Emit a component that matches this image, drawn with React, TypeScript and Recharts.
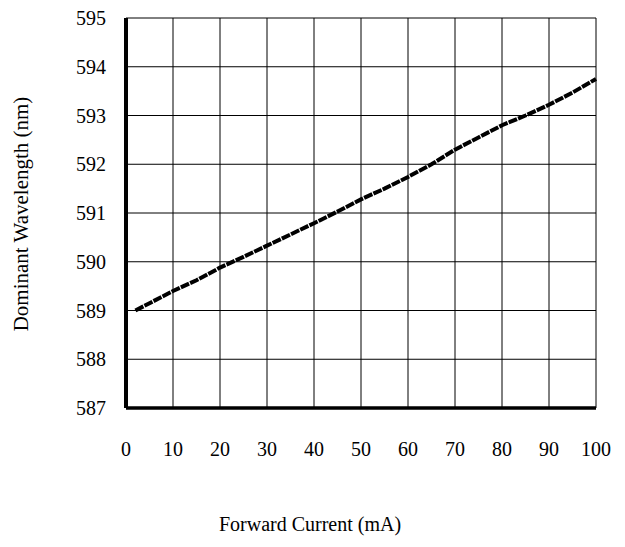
import React from 'react';
import { LineChart, Line, XAxis, YAxis, CartesianGrid, Label } from 'recharts';

const currents = [2, 5, 10, 15, 20, 25, 30, 35, 40, 45, 50, 55, 60, 65, 70, 75, 80, 85, 90, 95, 100];
const wavelengths = [589.0, 589.15, 589.4, 589.62, 589.88, 590.1, 590.33, 590.56, 590.79, 591.03, 591.28, 591.5, 591.74, 592.0, 592.3, 592.55, 592.8, 593.0, 593.22, 593.47, 593.75];
const xTicks = [0, 10, 20, 30, 40, 50, 60, 70, 80, 90, 100];
const yTicks = [587, 588, 589, 590, 591, 592, 593, 594, 595];
const xTitle = 'Forward Current (mA)';
const yTitle = 'Dominant Wavelength (nm)';

const data = currents.map((c, i) => ({ current: c, wavelength: wavelengths[i] }));

const FONT = '"Times New Roman", "Liberation Serif", serif';
const tickStyle = { fill: '#000', fontSize: 20, fontFamily: FONT };

export default function App() {
  return (
    <div style={{ position: 'absolute', left: 0, top: 0, width: 625, height: 547, background: '#fff', fontFamily: FONT }}>
      <LineChart width={625} height={547} data={data} margin={{ top: 18, right: 29, bottom: 0, left: 0 }}>
        <CartesianGrid stroke="#000" strokeWidth={1} horizontal vertical />
        <XAxis
          xAxisId="top"
          orientation="top"
          type="number"
          dataKey="current"
          domain={[0, 100]}
          ticks={xTicks}
          height={0}
          tick={false}
          tickLine={false}
          axisLine={{ stroke: '#000', strokeWidth: 3 }}
        />
        <YAxis
          yAxisId="right"
          orientation="right"
          type="number"
          domain={[587, 595]}
          ticks={yTicks}
          width={0}
          tick={false}
          tickLine={false}
          axisLine={{ stroke: '#000', strokeWidth: 3.5 }}
        />
        <XAxis
          type="number"
          dataKey="current"
          domain={[0, 100]}
          ticks={xTicks}
          interval={0}
          height={139}
          tickLine={false}
          tickMargin={28}
          tick={tickStyle}
          axisLine={{ stroke: '#000', strokeWidth: 3.5 }}
        >
          <Label
            content={() => (
              <text x={310} y={531} textAnchor="middle" fontSize={20} fontFamily={FONT} fill="#000">
                {xTitle}
              </text>
            )}
          />
        </XAxis>
        <YAxis
          type="number"
          domain={[587, 595]}
          ticks={yTicks}
          interval={0}
          width={126}
          tickLine={false}
          tickMargin={14}
          tick={tickStyle}
          axisLine={{ stroke: '#000', strokeWidth: 4 }}
        >
          <Label
            content={() => (
              <text
                x={28}
                y={214}
                transform="rotate(-90, 28, 214)"
                textAnchor="middle"
                fontSize={21}
                fontFamily={FONT}
                fill="#000"
              >
                {yTitle}
              </text>
            )}
          />
        </YAxis>
        <Line
          type="linear"
          dataKey="wavelength"
          stroke="#000"
          strokeWidth={4}
          strokeDasharray="9 1.2"
          dot={false}
          isAnimationActive={false}
        />
      </LineChart>
    </div>
  );
}
